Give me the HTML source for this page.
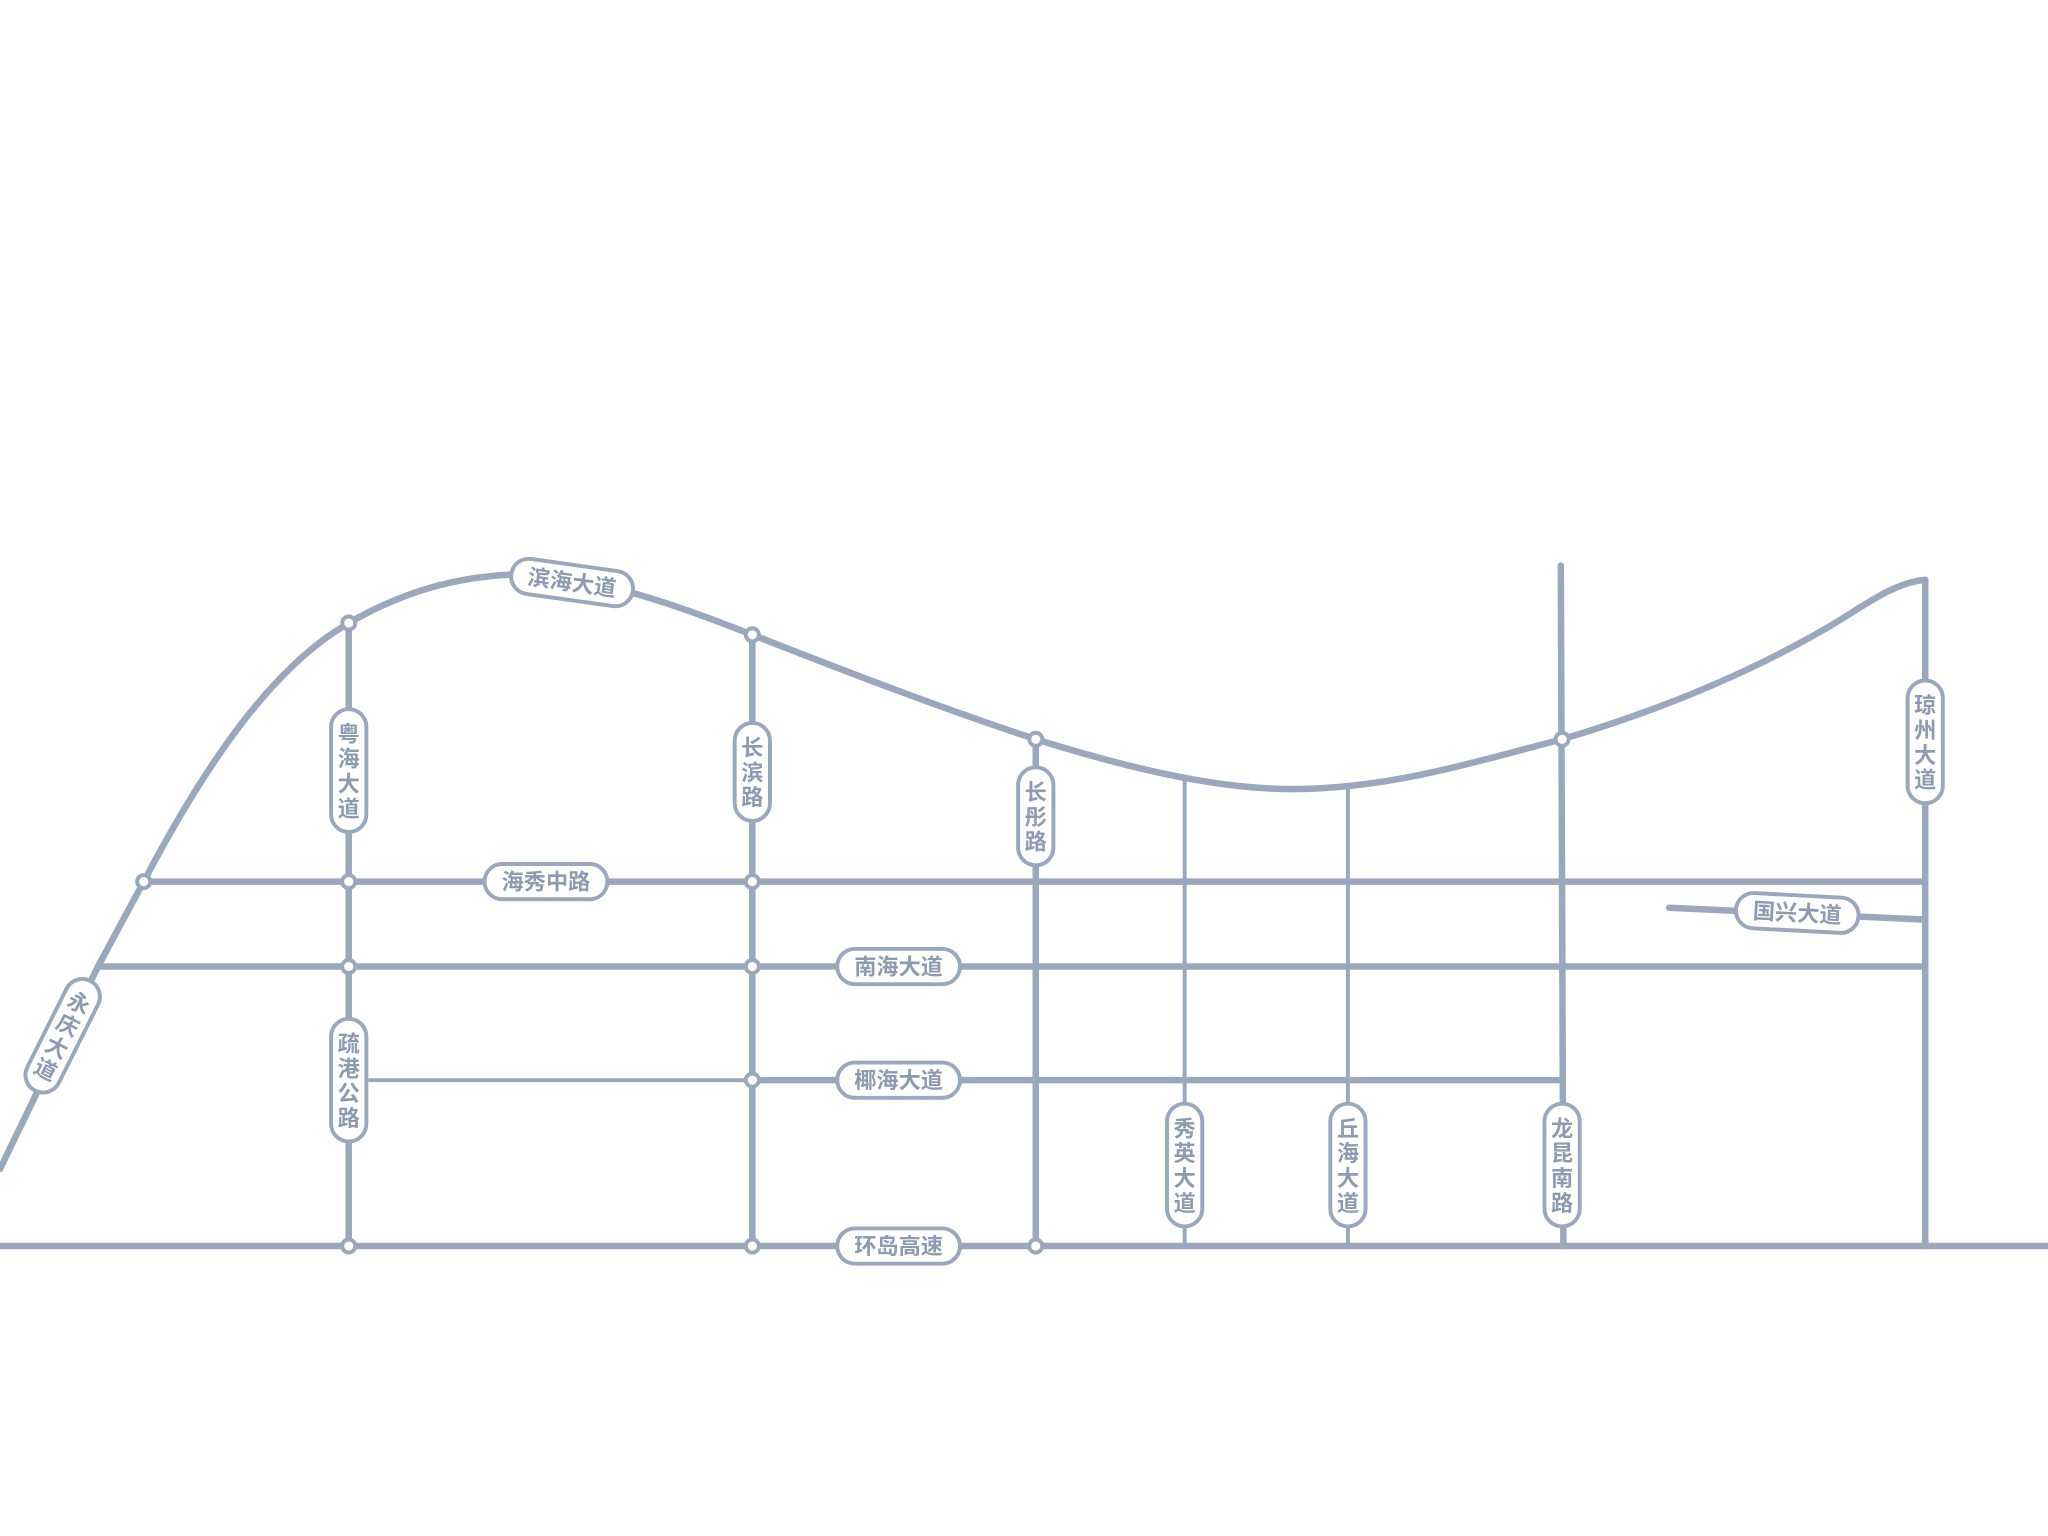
<!DOCTYPE html>
<html><head><meta charset="utf-8"><style>
html,body{margin:0;padding:0;background:#fff;}
svg{display:block;}
text{font-family:"Liberation Sans","Noto Sans CJK SC",sans-serif;font-weight:bold;fill:#8d9bb2;font-size:17px;}
</style></head><body>
<svg id="map" width="2048" height="1536" viewBox="0 0 1568 1176" xmlns="http://www.w3.org/2000/svg">
<g id="roads" fill="none" stroke="#9aa8bd" stroke-linecap="round"></g>
<g id="nodes"></g>
<g id="labels"></g>
</svg>
<script>
const roadNames = ['yongqing','binhai','haixiu','nanhai','yehai-thin','yehai','huandao','guoxing','yuehai','changbin','changtong','xiuying','qiuhai','longkun','qiongzhou'];
const roadPaths = [
 'M0,895 L75,740 L110,675',
 'M110,675 C160,580 210,510 267,477 C310,452 350,442 390,440 C450,438 520,464 576,486 C650,515 720,542 793,566 C870,590 940,606 1000,604 C1070,602 1130,583 1196,566 C1270,544 1340,515 1400,480 C1430,462 1450,446 1474,444',
 'M110,675 L1474,675',
 'M75,740 L1474,740',
 'M283,827 L576,827',
 'M576,827 L1196,827',
 'M0,954 L1568,954',
 'M1278,695 L1472,704',
 'M267,477 L267,954',
 'M576,486 L576,954',
 'M793,566 L793,954',
 'M907,597 L907,954',
 'M1032,604 L1032,954',
 'M1195,433 L1197,954',
 'M1474,444 L1474,954'];
const roadWidths = [5,5,5,5,3,5,5,5,5,5,5,3,3,5,5];
const nodeX = [110,267,267,267,267,576,576,576,576,576,793,793,1196];
const nodeY = [675,477,675,740,954,486,675,740,827,954,566,954,566];
const hLabels = ['滨海大道','海秀中路','南海大道','椰海大道','环岛高速','国兴大道'];
const hX = [438,418,688,688,688,1376];
const hY = [446,675,740,827,954,699];
const hRot = [8,0,0,0,0,3];
const vLabels = ['粤海大道','长滨路','长彤路','疏港公路','秀英大道','丘海大道','龙昆南路','琼州大道','永庆大道'];
const vX = [267,576,793,267,907,1032,1196,1474,48];
const vY = [590,591,625,827,892,892,892,568,793];
const vRot = [0,0,0,0,0,0,0,0,26.6];
const NS='http://www.w3.org/2000/svg';
const roads=document.getElementById('roads');
roadPaths.forEach((d,i)=>{const p=document.createElementNS(NS,'path');p.setAttribute('d',d);p.setAttribute('stroke-width',roadWidths[i]);


roads.appendChild(p);});
const nodes=document.getElementById('nodes');
nodeX.forEach((x,i)=>{const c=document.createElementNS(NS,'circle');c.setAttribute('cx',x);c.setAttribute('cy',nodeY[i]);c.setAttribute('r',5);c.setAttribute('fill','#fff');c.setAttribute('stroke','#9aa8bd');c.setAttribute('stroke-width',3);


nodes.appendChild(c);});
const labels=document.getElementById('labels');
function pill(w,h){const r=document.createElementNS(NS,'rect');r.setAttribute('x',-w/2);r.setAttribute('y',-h/2);r.setAttribute('width',w);r.setAttribute('height',h);r.setAttribute('rx',Math.min(w,h)/2);r.setAttribute('fill','#fff');r.setAttribute('stroke','#9aa8bd');r.setAttribute('stroke-width',3);return r;}
hLabels.forEach((t,i)=>{const g=document.createElementNS(NS,'g');g.setAttribute('transform',`translate(${hX[i]},${hY[i]}) rotate(${hRot[i]})`);


g.appendChild(pill(94,27));const tx=document.createElementNS(NS,'text');tx.setAttribute('text-anchor','middle');tx.setAttribute('y',6);tx.textContent=t;g.appendChild(tx);labels.appendChild(g);});
vLabels.forEach((t,i)=>{const n=t.length;const h=n*19+18;const g=document.createElementNS(NS,'g');g.setAttribute('transform',`translate(${vX[i]},${vY[i]}) rotate(${vRot[i]})`);


g.appendChild(pill(27,h));[...t].forEach((ch,k)=>{const tx=document.createElementNS(NS,'text');tx.setAttribute('text-anchor','middle');tx.setAttribute('y',-h/2+9+k*19+16);tx.textContent=ch;g.appendChild(tx);});labels.appendChild(g);});
</script>
</body></html>
